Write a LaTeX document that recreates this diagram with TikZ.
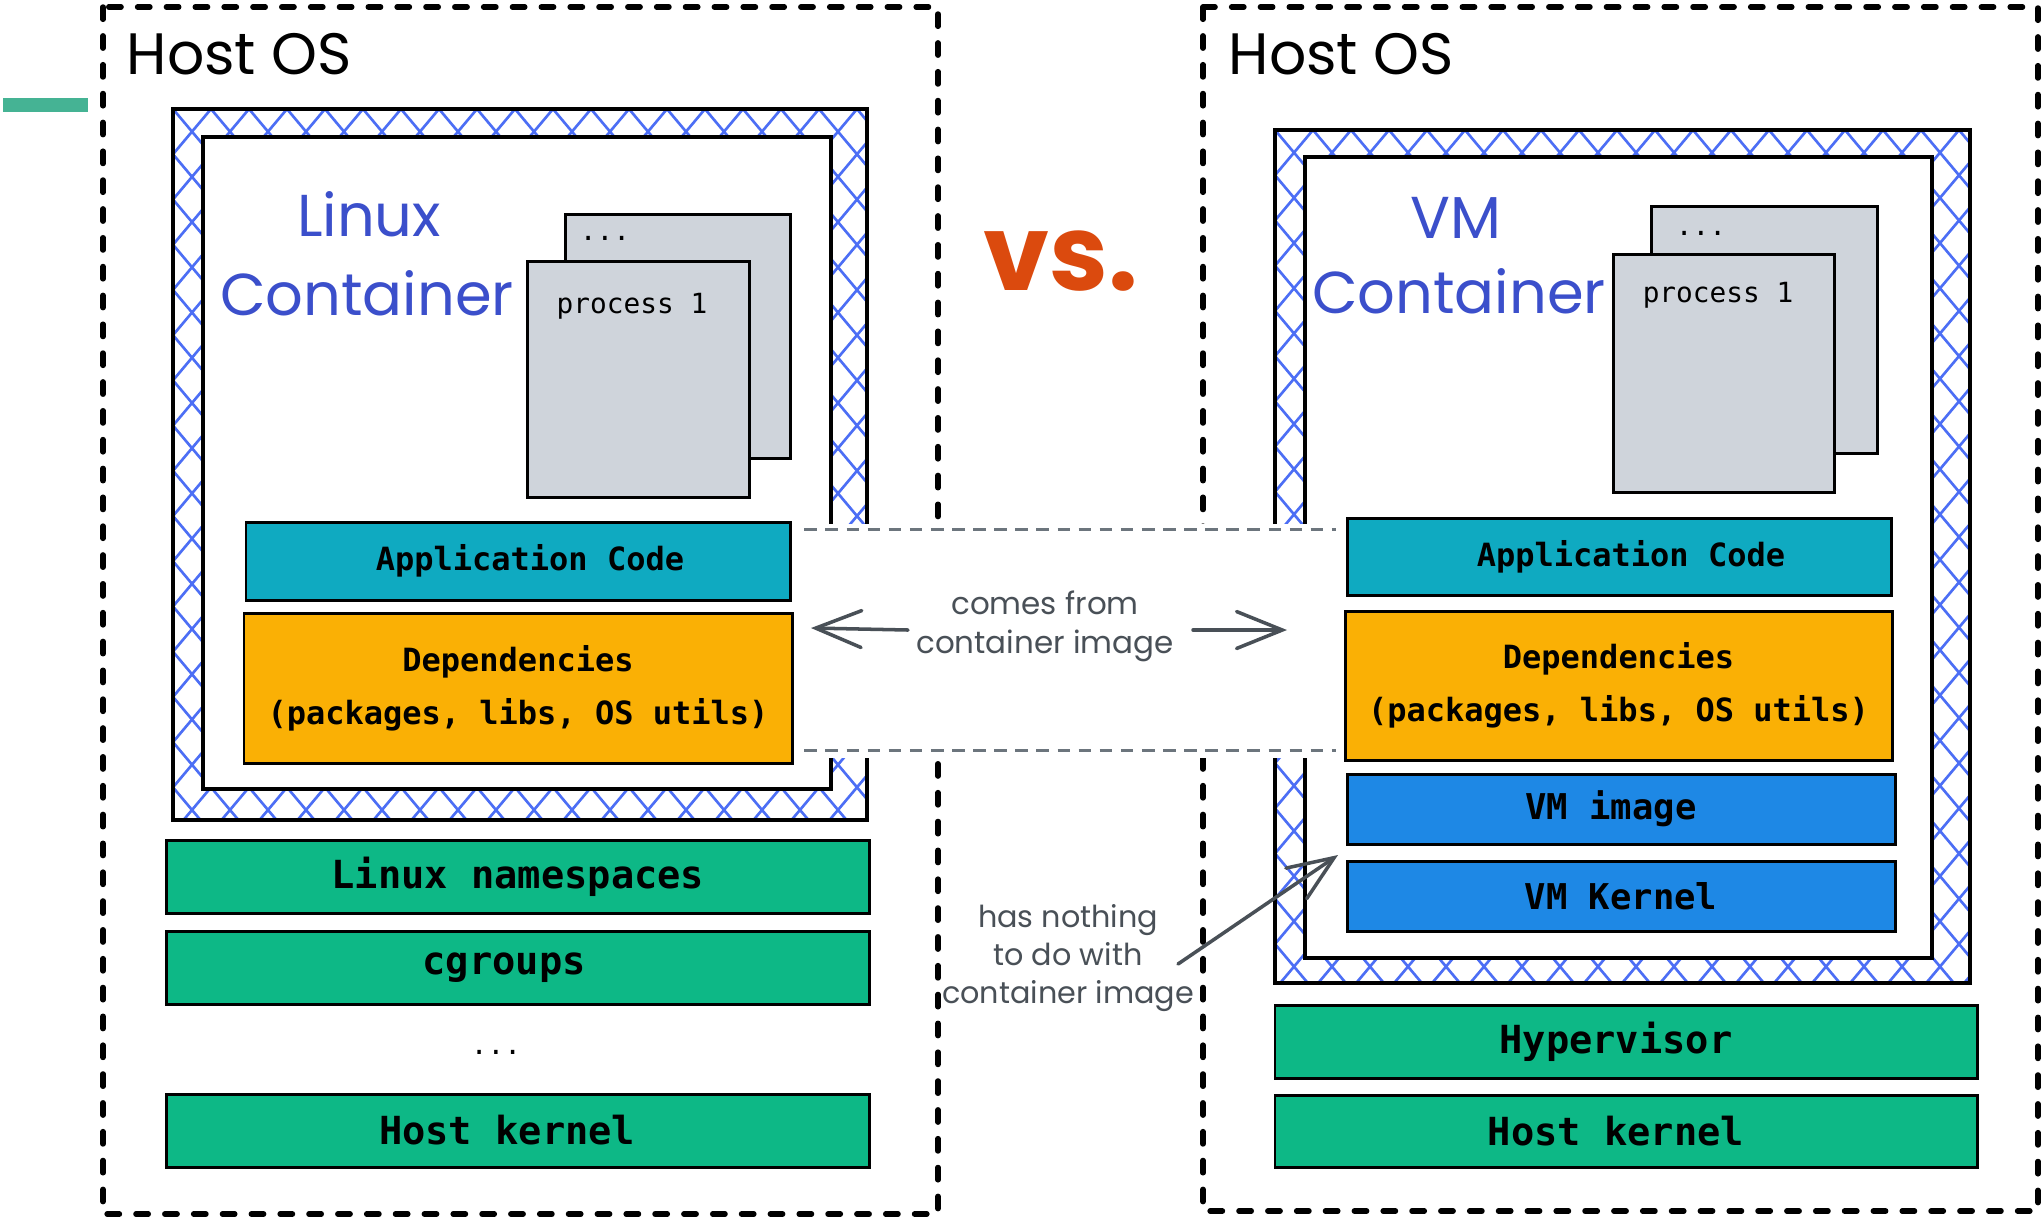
\documentclass[tikz,border=0pt]{standalone}
\usepackage{fontspec}
\setmainfont{Poppins}
\setmonofont{DejaVu Sans Mono}
\newfontfamily\handfont{Poppins}
\usetikzlibrary{fit,arrows.meta}
\definecolor{hatchblue}{HTML}{4C6EF5}
\definecolor{titleblue}{HTML}{3B4FCB}
\definecolor{vsorange}{HTML}{DB4A0E}
\definecolor{appcyan}{HTML}{0FAAC1}
\definecolor{depyellow}{HTML}{FAB005}
\definecolor{vmblue}{HTML}{1E88E5}
\definecolor{hostgreen}{HTML}{0DB886}
\definecolor{procgray}{HTML}{CFD4DB}
\definecolor{notegray}{HTML}{495057}
\definecolor{dashgray}{HTML}{6C757D}
\definecolor{tealbar}{HTML}{45B394}
\tikzset{
  hostos/.style={line width=1.56pt, dash pattern=on 3.5pt off 4.7pt, line cap=round},
  frameline/.style={line width=1.4pt},
  hatchline/.style={draw=hatchblue, line width=0.75pt},
  layer/.style={draw=black, line width=0.85pt, inner sep=0pt, align=center},
  greenlayer/.style={layer, fill=hostgreen, font=\ttfamily\bfseries\fontsize{11pt}{13pt}\selectfont},
  applayer/.style={layer, fill=appcyan, font=\ttfamily\bfseries\fontsize{9.1pt}{15pt}\selectfont},
  deplayer/.style={layer, fill=depyellow, font=\ttfamily\bfseries\fontsize{9.1pt}{15pt}\selectfont},
  vmlayer/.style={layer, fill=vmblue, font=\ttfamily\bfseries\fontsize{10.1pt}{12pt}\selectfont},
  procbox/.style={draw=black, line width=0.85pt, fill=procgray, inner sep=0pt},
  proctext/.style={inner sep=0pt, font=\ttfamily\fontsize{7.9pt}{9pt}\selectfont},
  hosttext/.style={inner sep=0pt, anchor=base west, font=\handfont\fontsize{16.6pt}{20pt}\selectfont},
  titletext/.style={inner sep=0pt, anchor=base, text=titleblue, font=\handfont\fontsize{16.8pt}{20pt}\selectfont},
  notetext/.style={inner sep=0pt, align=center, text=notegray, font=\handfont\fontsize{8.8pt}{11pt}\selectfont},
  notearrow/.style={draw=notegray, line width=1pt, line cap=round, -{Straight Barb[length=13pt, width=10.5pt, line cap=round]}},
  banddash/.style={draw=dashgray, line width=0.7pt, dash pattern=on 3.6pt off 2.4pt}
}
\newcommand{\myhatch}[4]{%
  \begin{scope}
    \clip (#1,#2) rectangle (#3,#4);
    \pgfmathsetmacro{\hatchH}{#4-#2}
    \pgfmathsetmacro{\hatchD}{(#4-#2)/1.19}
    \foreach \k in {-25,...,45}{
      \draw[hatchline] ({#1+\k*38},#2) -- ++(\hatchD,\hatchH);
      \draw[hatchline] ({#1+\k*38},#2) -- ++(-\hatchD,\hatchH);
    }
  \end{scope}}
% style, name, x1, y1, x2, y2, text
\newcommand{\mylayer}[7]{%
  \pgfmathsetmacro{\layW}{(#5-#3)*0.01}%
  \pgfmathsetmacro{\layH}{(#6-#4)*0.01}%
  \node[#1, minimum width=\layW cm, minimum height=\layH cm] (#2) at ({(#3+#5)/2},{(#4+#6)/2}) {#7};}
\begin{document}
\begin{tikzpicture}[x=0.01cm, y=-0.01cm]
\useasboundingbox (0,0) rectangle (2042,1217);
\fill[white] (0,0) rectangle (2042,1217);

% small teal bar at the top left
\fill[tealbar] (3,98) rectangle (88,112);

% Host OS boxes
\draw[hostos] (103,7) rectangle (938,1214);
\draw[hostos] (1203,7) rectangle (2038,1211);
\node[hosttext] (hostL) at (126,74) {Host OS};
\node[hosttext] (hostR) at (1228,74) {Host OS};

% left hatched container frame
\myhatch{173}{109}{867}{820}
\draw[frameline] (173,109) rectangle (867,820);
\draw[frameline, fill=white] (203,137) rectangle (831,789);

% right hatched container frame
\myhatch{1275}{130}{1970}{983}
\draw[frameline] (1275,130) rectangle (1970,983);
\draw[frameline, fill=white] (1305,157) rectangle (1932,958);

% titles
\node[titletext] (linuxT) at (369,236) {Linux};
\node[titletext] (contL) at (367,315) {Container};
\node[titletext] (vmT) at (1456,238) {VM};
\node[titletext] (contR) at (1459,313) {Container};

% processes left
\node[procbox, fit={(565,214) (790,458)}] (backL) {};
\node[proctext, anchor=base] (dotsL) at (605,240) {...};
\node[procbox, fit={(527,261) (749,497)}] (frontL) {};
\node[proctext, anchor=base] (procL) at (632,313) {process 1};

% processes right
\node[procbox, fit={(1651,206) (1877,453)}] (backR) {};
\node[proctext, anchor=base] (dotsR) at (1701,235) {...};
\node[procbox, fit={(1613,254) (1834,492)}] (frontR) {};
\node[proctext, anchor=base] (procR) at (1718,302) {process 1};

% vs.
\node[inner sep=0pt, anchor=base, text=vsorange, font=\handfont\bfseries\fontsize{30pt}{30pt}\selectfont] (vs) at (1061,290) {vs.};

% white band with dashed borders
\fill[white] (800,524) rectangle (1340,758);
\node[inner sep=0pt, fit={(805,530) (1335,750)}] (band) {};
\draw[banddash] (band.north west) -- (band.north east);
\draw[banddash] (band.south west) -- (band.south east);

% left layers
\mylayer{applayer}{appL}{246}{522}{790}{600}{\kern6.8pt Application Code}
\mylayer{deplayer}{depL}{244}{613}{792}{763}{Dependencies\\(packages, libs, OS utils)}
\mylayer{greenlayer}{nsL}{167}{840}{869}{913}{Linux namespaces}
\mylayer{greenlayer}{cgL}{167}{931}{869}{1004}{cgroups\kern7.9pt}
\node[proctext, anchor=base] (moreL) at (496,1054) {...};
\mylayer{greenlayer}{hkL}{167}{1094}{869}{1167}{Host kernel\kern6.2pt}

% right layers
\mylayer{applayer}{appR}{1347}{518}{1891}{595}{\kern6.8pt Application Code}
\mylayer{deplayer}{depR}{1345}{611}{1892}{760}{Dependencies\\(packages, libs, OS utils)}
\mylayer{vmlayer}{vmiR}{1347}{774}{1895}{844}{VM image\kern5.7pt}
\mylayer{vmlayer}{vmkR}{1347}{861}{1895}{931}{VM Kernel}
\mylayer{greenlayer}{hypR}{1275}{1005}{1977}{1078}{Hypervisor\kern5.7pt}
\mylayer{greenlayer}{hkR}{1275}{1095}{1977}{1167}{Host kernel\kern5.7pt}

% notes and arrows
\node[notetext] (comes) at (1045,626) {comes from\\container image};
\coordinate (laS) at (908,630);
\coordinate (laE) at (811,628);
\coordinate (raS) at (1193,630);
\coordinate (raE) at (1287,630);
\draw[notearrow] (laS) -- (laE);
\draw[notearrow] (raS) -- (raE);

\node[notetext, font=\handfont\fontsize{8.6pt}{10.9pt}\selectfont] (nothing) at (1068,958) {has nothing\\to do with\\container image};
\coordinate (daS) at (1178,964);
\coordinate (daE) at (1338,855);
\draw[notearrow] (daS) -- (daE);
\end{tikzpicture}
\end{document}
